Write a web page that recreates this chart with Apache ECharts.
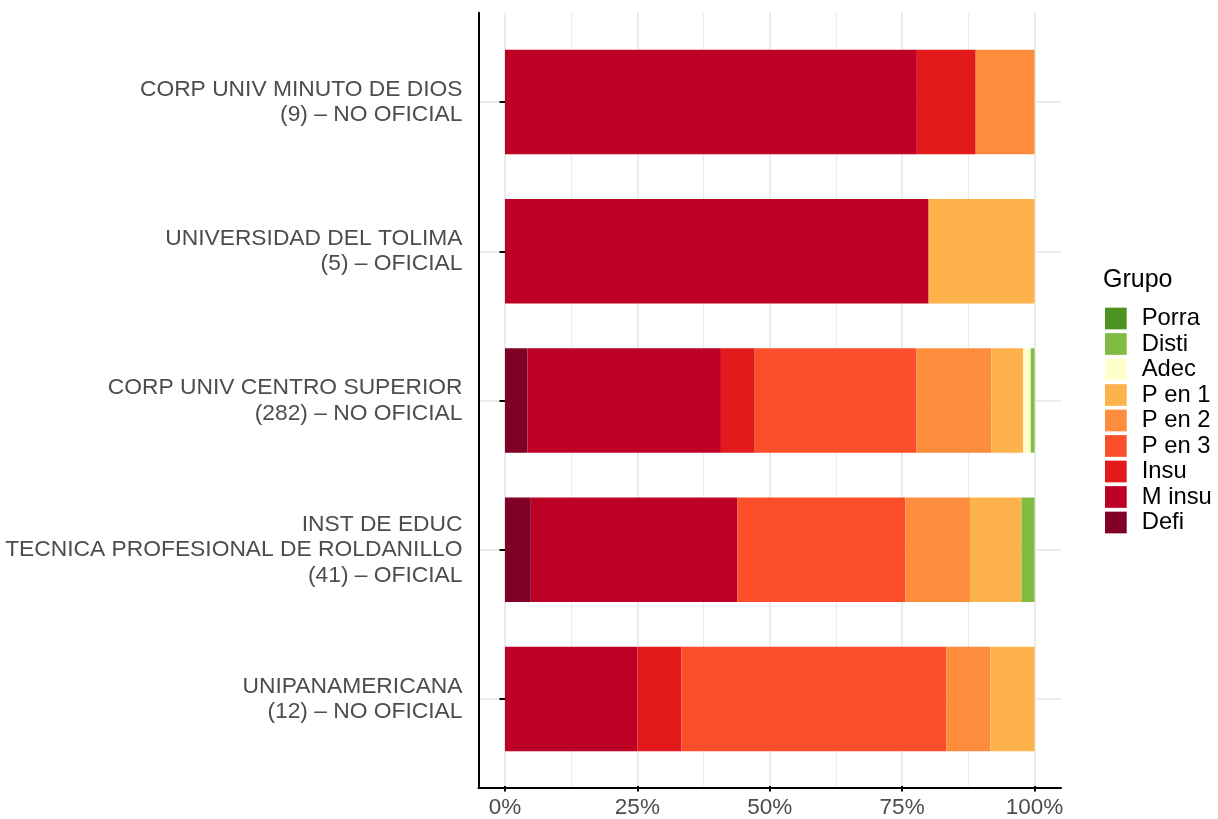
<!DOCTYPE html>
<html>
<head>
<meta charset="utf-8">
<script src="https://cdn.jsdelivr.net/npm/echarts@6/dist/echarts.min.js"></script>
<style>
html,body{margin:0;padding:0;background:#fff;}
#chart{width:1218px;height:819px;}
</style>
</head>
<body>
<div id="chart"></div>
<script>
// Categories (top to bottom)
const categories = [
  'CORP UNIV MINUTO DE DIOS\n(9) – NO OFICIAL',
  'UNIVERSIDAD DEL TOLIMA\n(5) – OFICIAL',
  'CORP UNIV CENTRO SUPERIOR\n(282) – NO OFICIAL',
  'INST DE EDUC\nTECNICA PROFESIONAL DE ROLDANILLO\n(41) – OFICIAL',
  'UNIPANAMERICANA\n(12) – NO OFICIAL'
];
// Groups in stacking order (left to right)
const groups = ['Defi', 'M insu', 'Insu', 'P en 3', 'P en 2', 'P en 1', 'Adec', 'Disti', 'Porra'];
const groupColors = ['#800026', '#bd0026', '#e31a1c', '#fc4e2a', '#fd8d3c', '#feb24c', '#ffffcc', '#7fbc41', '#4d9221'];
// Counts per group, one value per category
const defi  = [0, 0, 12, 2, 0];
const mInsu = [7, 4, 103, 16, 3];
const insu  = [1, 0, 18, 0, 1];
const pEn3  = [0, 0, 86, 13, 6];
const pEn2  = [1, 0, 40, 5, 1];
const pEn1  = [0, 1, 17, 4, 1];
const adec  = [0, 0, 4, 0, 0];
const disti = [0, 0, 2, 1, 0];
const porra = [0, 0, 0, 0, 0];
const totals = [9, 5, 282, 41, 12];
const xTicks = [0, 25, 50, 75, 100];

const counts = [defi, mInsu, insu, pEn3, pEn2, pEn1, adec, disti, porra];

const FONT = '"Liberation Sans", Arial, sans-serif';
const chart = echarts.init(document.getElementById('chart'), null, {renderer: 'canvas'});

const series = groups.map((g, gi) => ({
  name: g,
  type: 'bar',
  stack: 'total',
  xAxisIndex: 0,
  yAxisIndex: 0,
  barWidth: 104.3,
  clip: false,
  itemStyle: {color: groupColors[gi]},
  emphasis: {disabled: true},
  data: counts[gi].map((v, i) => v / totals[i] * 100)
}));

const option = {
  animation: false,
  textStyle: {fontFamily: FONT},
  title: {
    text: 'Grupo',
    left: 1103,
    top: 268,
    padding: 0,
    textStyle: {fontFamily: FONT, fontSize: 25, fontWeight: 'normal', color: '#000'}
  },
  legend: {
    orient: 'vertical',
    left: 1105,
    top: 306.5,
    padding: 0,
    itemWidth: 21.7,
    itemHeight: 21.7,
    itemGap: 1.5,
    icon: 'rect',
    selectedMode: false,
    data: groups.slice().reverse(),
    textStyle: {fontFamily: FONT, fontSize: 23.8, color: '#000', padding: [0, 0, 0, 10]}
  },
  grid: [
    {left: 478.5, right: 157, top: 102, height: 597, containLabel: false},
    {left: 505, right: 183.5, top: 12.7, bottom: 31.3, containLabel: false},
    {left: 478.5, right: 157, top: 12.7, bottom: 31.3, containLabel: false}
  ],
  xAxis: [
    {type: 'value', gridIndex: 0, min: -5, max: 105, show: false},
    {
      type: 'value', gridIndex: 1, min: 0, max: 100, interval: 25,
      axisLine: {show: false},
      axisTick: {show: true, length: 5.5, lineStyle: {color: '#000', width: 2}, customValues: xTicks},
      axisLabel: {show: true, margin: 10, fontFamily: FONT, fontSize: 22.5, color: '#4D4D4D',
        customValues: xTicks, formatter: v => v + '%'},
      splitLine: {show: true, lineStyle: {color: '#EBEBEB', width: 2}},
      minorTick: {show: false, splitNumber: 2},
      minorSplitLine: {show: true, lineStyle: {color: '#EBEBEB', width: 1.2}}
    },
    {
      type: 'value', gridIndex: 2, min: 0, max: 1,
      axisLine: {show: true, onZero: false, lineStyle: {color: '#000', width: 2}},
      axisTick: {show: false}, axisLabel: {show: false}, splitLine: {show: false}
    }
  ],
  yAxis: [
    {
      type: 'category', gridIndex: 0, inverse: true, boundaryGap: false,
      data: categories,
      axisLine: {show: false},
      axisTick: {show: true, length: 5.5, lineStyle: {color: '#000', width: 2}},
      axisLabel: {show: true, margin: 16, fontFamily: FONT, fontSize: 22.8, color: '#4D4D4D',
        lineHeight: 25.5, align: 'right'},
      splitLine: {show: true, lineStyle: {color: '#EBEBEB', width: 2}}
    },
    {type: 'value', gridIndex: 1, show: false},
    {
      type: 'value', gridIndex: 2, min: 0, max: 1,
      axisLine: {show: true, onZero: false, lineStyle: {color: '#000', width: 2}},
      axisTick: {show: false}, axisLabel: {show: false}, splitLine: {show: false}
    }
  ],
  series: series
};
chart.setOption(option);
</script>
</body>
</html>
